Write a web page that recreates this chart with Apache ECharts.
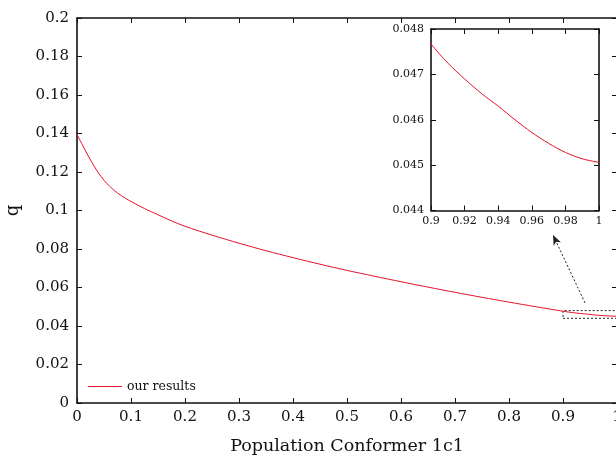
<!DOCTYPE html>
<html>
<head>
<meta charset="utf-8">
<script src="https://cdn.jsdelivr.net/npm/echarts@6/dist/echarts.min.js"></script>
<style>
html,body{margin:0;padding:0;background:#fff;}
#chart{width:616px;height:457px;}
</style>
</head>
<body>
<div id="chart"></div>
<script>
// ---- data ----
var populationX = [0, 0.01, 0.02, 0.03, 0.04, 0.05, 0.06, 0.07, 0.08, 0.09, 0.1, 0.125, 0.15, 0.175, 0.2, 0.25, 0.3, 0.35, 0.4, 0.45, 0.5, 0.55, 0.6, 0.65, 0.7, 0.75, 0.8, 0.85, 0.9, 0.91, 0.92, 0.93, 0.94, 0.95, 0.96, 0.97, 0.98, 0.99, 1.0];
var qValues = [0.1395, 0.1341, 0.1288, 0.1238, 0.1194, 0.1157, 0.1127, 0.1102, 0.1081, 0.1063, 0.1047, 0.1010, 0.0978, 0.0946, 0.0918, 0.0872, 0.0830, 0.0791, 0.0755, 0.0721, 0.0689, 0.0659, 0.0630, 0.0602, 0.0575, 0.0549, 0.0524, 0.0500, 0.04767, 0.04725, 0.04690, 0.04658, 0.04630, 0.04600, 0.04572, 0.04548, 0.04528, 0.04514, 0.04506];
var seriesName = 'our results';
var xAxisTitle = 'Population Conformer 1c1';
var yAxisTitle = 'q';
var zoomBoxX = [0.9, 1.0];
var zoomBoxY = [0.044, 0.048];
var arrowFrom = [0.9407, 0.0520];
var arrowTo = [0.8815, 0.0873];

var points = populationX.map(function (x, i) { return [x, qValues[i]]; });

var FONT = 'DejaVu Serif';
var INK = '#111';
var RED = '#e4122c';

function axisBase(extra) {
  var base = {
    type: 'value',
    axisLine: { show: true, onZero: false, lineStyle: { color: INK, width: 1.6 } },
    axisTick: { show: true, inside: true, length: 5, lineStyle: { color: INK, width: 1 } },
    splitLine: { show: false },
    axisLabel: { show: false }
  };
  for (var k in extra) base[k] = extra[k];
  return base;
}

var chart = echarts.init(document.getElementById('chart'), null, { renderer: 'canvas' });
chart.setOption({
  animation: false,
  backgroundColor: '#fff',
  grid: [
    { left: 77, top: 18, width: 540, height: 385, containLabel: false, outerBoundsMode: 'none' },
    { left: 431, top: 29, width: 168, height: 181.5, containLabel: false, outerBoundsMode: 'none' }
  ],
  legend: {
    data: [seriesName],
    left: 88, top: 380, padding: 0,
    icon: 'rect', itemWidth: 34, itemHeight: 1.2,
    textStyle: { fontFamily: FONT, fontSize: 12.5, color: INK, padding: [0, 0, 0, 0] }
  },
  xAxis: [
    axisBase({ gridIndex: 0, position: 'bottom', min: 0, max: 1, interval: 0.1,
      axisLabel: { show: true, fontFamily: FONT, fontSize: 15, color: INK, margin: 7 },
      name: xAxisTitle, nameLocation: 'middle', nameGap: 34,
      nameTextStyle: { fontFamily: FONT, fontSize: 17.5, color: INK } }),
    axisBase({ gridIndex: 0, position: 'top', min: 0, max: 1, interval: 0.1 }),
    axisBase({ gridIndex: 1, position: 'bottom', min: 0.9, max: 1, interval: 0.02,
      axisLabel: { show: true, fontFamily: FONT, fontSize: 11, color: INK, margin: 5 } }),
    axisBase({ gridIndex: 1, position: 'top', min: 0.9, max: 1, interval: 0.02 })
  ],
  yAxis: [
    axisBase({ gridIndex: 0, position: 'left', min: 0, max: 0.2, interval: 0.02,
      axisLabel: { show: true, fontFamily: FONT, fontSize: 15, color: INK, margin: 8 },
      name: yAxisTitle, nameLocation: 'middle', nameGap: 55,
      nameTextStyle: { fontFamily: FONT, fontSize: 18, color: INK } }),
    axisBase({ gridIndex: 0, position: 'right', min: 0, max: 0.2, interval: 0.02 }),
    axisBase({ gridIndex: 1, position: 'left', min: 0.044, max: 0.048, interval: 0.001,
      axisLabel: { show: true, fontFamily: FONT, fontSize: 11, color: INK, margin: 7 } }),
    axisBase({ gridIndex: 1, position: 'right', min: 0.044, max: 0.048, interval: 0.001 })
  ],
  series: [
    {
      name: seriesName, type: 'line', xAxisIndex: 0, yAxisIndex: 0,
      data: points, symbol: 'none', smooth: 0.3, clip: true,
      lineStyle: { color: RED, width: 1 }, itemStyle: { color: RED },
      markArea: {
        silent: true,
        itemStyle: { color: 'rgba(0,0,0,0)', borderColor: '#222', borderWidth: 1, borderType: [2, 2] },
        data: [[{ coord: [zoomBoxX[0], zoomBoxY[0]] }, { coord: [zoomBoxX[1], zoomBoxY[1]] }]]
      },
      markLine: {
        silent: true, label: { show: false },
        lineStyle: { color: '#222', width: 1, type: [2, 2] },
        symbol: ['none', 'arrow'], symbolSize: [6, 10],
        data: [[{ coord: arrowFrom }, { coord: arrowTo }]]
      }
    },
    {
      name: 'inset', type: 'line', xAxisIndex: 2, yAxisIndex: 2,
      data: points, symbol: 'none', smooth: 0.3, clip: true,
      lineStyle: { color: RED, width: 1 }, itemStyle: { color: RED }
    }
  ]
});
</script>
</body>
</html>
